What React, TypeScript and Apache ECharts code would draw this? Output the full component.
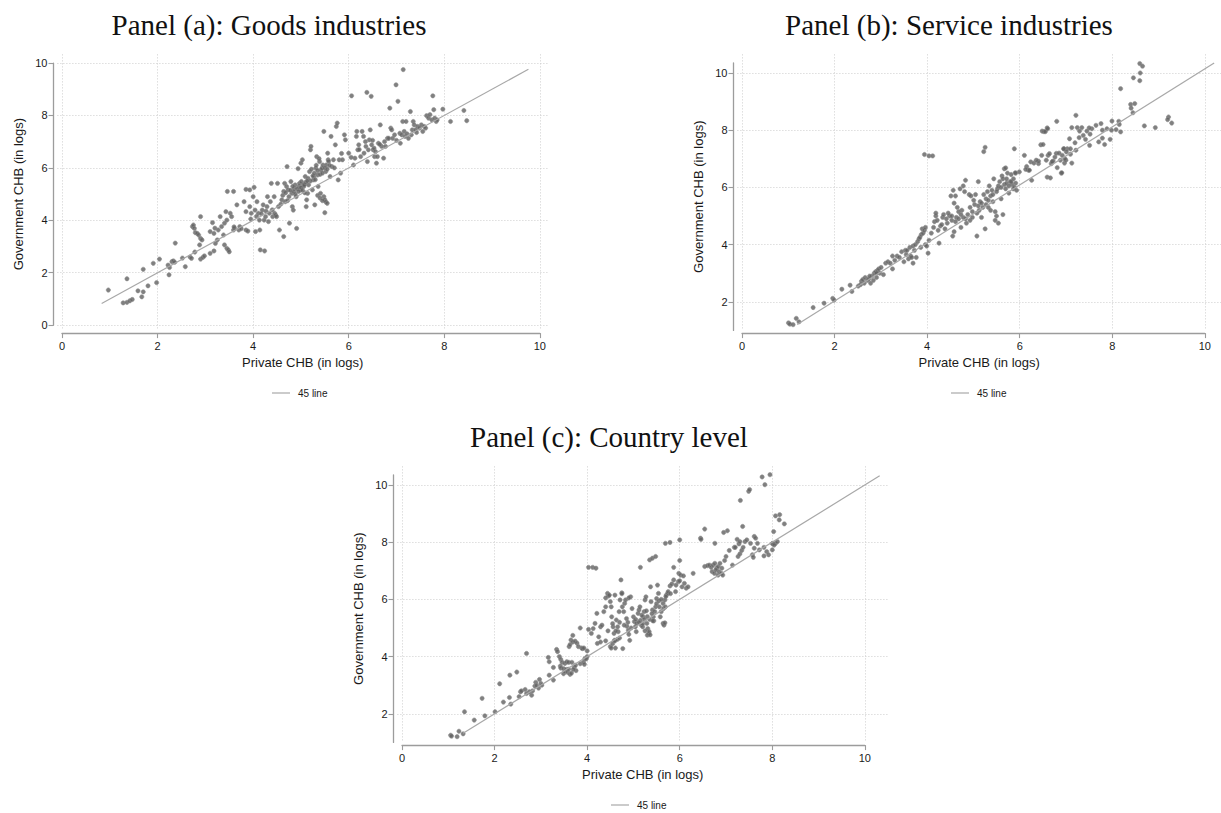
import React, { useEffect, useRef } from 'react';
import * as echarts from 'echarts';

// tick labels shared by the panels
const xTicks = [0, 2, 4, 6, 8, 10];
const yTicksGoods = [0, 2, 4, 6, 8, 10];
const yTicksOther = [2, 4, 6, 8, 10];

const panelTitles = [
  'Panel (a): Goods industries',
  'Panel (b): Service industries',
  'Panel (c): Country level',
];
const xAxisName = 'Private CHB (in logs)';
const yAxisName = 'Government CHB (in logs)';
const legendLabel = '45 line';

// [private CHB, government CHB]
const goodsPoints: [number, number][] = [
  [0.97, 1.34], [1.28, 0.85], [1.36, 0.87], [1.42, 0.93], [1.47, 0.98], [1.36, 1.77], [1.59, 1.31],
  [1.67, 1.08], [1.7, 1.27], [1.7, 2.13], [1.8, 1.5], [1.91, 2.36], [1.98, 1.62], [2.04, 2.52],
  [2.22, 2.29], [2.24, 1.92], [2.25, 2.2], [2.3, 2.42], [2.33, 2.45], [2.36, 2.4], [2.37, 3.13],
  [2.52, 2.56], [2.58, 2.23], [2.68, 2.6], [2.71, 2.55], [2.78, 2.79],
  [2.73, 3.76], [2.75, 3.82], [2.77, 3.69], [2.79, 3.53], [2.83, 3.5], [2.86, 3.44], [2.9, 3.31],
  [2.93, 3.25], [2.9, 4.14], [2.88, 3.06], [2.9, 2.52], [2.95, 2.59], [2.98, 2.64],
  [3.1, 3.57], [3.15, 3.91], [3.18, 3.5], [3.2, 3.7], [3.1, 2.74], [3.18, 2.83], [3.21, 3.12],
  [3.25, 3.25], [3.27, 3.63], [3.31, 4.14], [3.34, 3.76], [3.38, 3.44], [3.4, 3.89], [3.43, 4.33],
  [3.45, 4.01], [3.4, 3.06], [3.45, 2.93], [3.48, 2.87], [3.5, 2.8], [3.46, 5.1], [3.59, 5.1],
  [3.52, 4.27], [3.55, 4.14], [3.59, 3.63], [3.61, 3.69], [3.66, 4.59], [3.7, 3.63], [3.72, 3.76],
  [3.81, 4.71], [3.85, 3.63], [3.89, 3.59], [3.85, 4.33], [3.93, 4.52], [3.85, 5.18], [3.93, 5.16],
  [3.96, 4.27], [4.0, 4.9], [4.02, 5.26], [4.04, 4.39], [4.05, 3.57], [4.08, 4.71], [4.11, 4.27],
  [4.13, 4.01], [4.14, 3.63], [4.15, 2.87], [4.19, 4.39], [4.21, 4.59], [4.23, 4.01], [4.24, 2.83],
  [4.26, 4.14], [4.29, 4.52], [4.3, 4.9], [4.32, 3.95], [4.34, 4.27], [4.36, 4.71], [4.38, 5.41],
  [4.41, 4.14], [4.44, 4.9], [4.45, 4.27], [4.47, 4.2], [4.49, 4.14], [4.51, 5.41], [4.53, 4.52],
  [4.55, 3.63], [4.6, 4.78], [4.64, 3.38], [4.64, 5.1], [4.66, 5.41], [4.67, 4.71], [4.7, 5.29],
  [4.71, 6.05], [4.73, 5.16], [4.75, 4.9], [4.76, 3.89], [4.79, 5.48], [4.81, 5.03], [4.82, 4.52],
  [4.84, 4.39], [4.86, 5.22], [4.88, 5.35], [4.9, 4.9], [4.91, 3.69], [4.94, 5.97], [4.96, 5.29],
  [4.97, 5.41], [4.99, 5.16], [5.0, 6.18], [5.01, 5.48],
  [5.03, 6.31], [5.05, 5.35], [5.06, 5.29], [5.09, 5.67], [5.11, 4.52], [5.12, 4.78], [5.14, 5.03],
  [5.16, 5.35], [5.18, 5.86], [5.2, 6.69], [5.21, 6.82], [5.24, 5.16], [5.26, 5.54], [5.27, 5.67],
  [5.29, 4.59], [5.31, 5.99], [5.33, 6.43], [5.35, 5.73], [5.36, 5.29], [5.39, 6.24], [5.41, 5.03],
  [5.42, 5.92], [5.44, 5.99], [5.46, 6.11], [5.48, 4.9], [5.48, 7.39], [5.5, 4.78], [5.5, 4.29],
  [5.52, 5.86], [5.53, 6.11], [5.56, 6.56], [5.57, 6.31], [5.61, 5.67], [5.63, 7.2], [5.65, 6.05],
  [5.68, 6.31], [5.72, 6.88], [5.74, 7.58], [5.76, 7.71], [5.78, 5.54], [5.8, 6.31], [5.83, 5.8],
  [5.87, 6.31], [5.91, 7.26], [5.93, 7.07],
  [6.0, 6.56], [6.06, 8.75], [6.1, 6.11], [6.13, 6.37], [6.16, 7.2], [6.17, 7.39], [6.19, 6.69],
  [6.21, 6.88], [6.25, 6.43], [6.28, 7.39], [6.31, 7.2], [6.32, 6.56], [6.36, 6.82], [6.38, 8.88],
  [6.39, 6.24], [6.41, 6.69], [6.43, 7.07], [6.45, 7.45], [6.47, 8.73], [6.48, 6.88], [6.51, 6.69],
  [6.53, 6.75], [6.54, 6.43], [6.56, 6.62], [6.58, 6.18], [6.6, 6.43], [6.62, 6.94], [6.66, 7.64],
  [6.69, 6.82], [6.73, 6.37], [6.77, 6.82], [6.81, 7.13], [6.84, 7.13], [6.86, 8.28], [6.88, 7.52],
  [6.9, 7.45], [6.92, 7.13], [6.96, 7.26],
  [6.99, 9.17], [7.03, 8.54], [7.07, 7.32], [7.08, 6.94], [7.11, 7.26], [7.13, 7.77], [7.14, 9.75],
  [7.16, 7.39], [7.18, 7.2], [7.2, 7.77], [7.25, 7.13], [7.29, 8.15], [7.31, 7.26], [7.33, 7.45],
  [7.35, 7.77], [7.37, 7.64], [7.4, 7.45], [7.44, 7.58], [7.48, 7.52], [7.52, 7.64], [7.55, 7.39],
  [7.58, 7.58], [7.61, 7.52], [7.63, 7.99], [7.67, 7.9], [7.7, 8.03], [7.74, 7.83], [7.76, 8.75],
  [7.78, 8.22], [7.8, 7.9], [7.83, 7.77], [7.85, 7.83], [7.97, 8.24], [8.13, 7.77], [8.41, 8.19],
  [8.47, 7.8],
  [4.85, 5.1], [4.88, 5.0], [4.92, 5.2], [4.95, 5.1], [5.0, 5.25], [5.03, 5.15], [5.07, 5.35],
  [5.1, 5.45], [5.15, 5.6], [5.2, 5.5], [5.25, 5.7], [5.3, 5.55], [5.35, 5.9], [5.4, 5.75],
  [5.45, 5.8], [5.5, 6.0], [5.55, 5.95], [5.6, 6.1], [5.35, 4.95], [5.4, 4.85], [5.45, 4.75],
  [5.52, 4.7], [5.55, 4.65],
  [3.6, 3.75], [3.75, 3.68], [3.95, 4.05], [4.07, 4.15], [4.17, 4.25], [4.27, 4.35], [4.4, 4.4],
  [4.58, 4.62], [4.62, 4.95], [4.68, 5.05], [4.72, 4.75], [4.78, 5.15], [4.83, 5.3], [5.08, 5.05],
  [5.13, 5.5], [5.22, 5.95], [5.28, 5.8], [5.32, 6.1], [5.38, 6.35], [5.58, 6.25], [5.7, 6.0],
  [5.85, 6.55], [6.05, 6.4], [6.22, 6.7], [6.35, 7.0], [6.5, 7.05], [6.65, 6.9], [6.75, 7.0],
  [7.0, 7.05], [7.22, 7.3], [7.42, 7.35],
];

const servicePoints: [number, number][] = [
  [1.02, 1.26], [1.05, 1.22], [1.12, 1.2], [1.19, 1.42], [1.25, 1.3], [1.56, 1.8], [1.8, 1.95],
  [1.99, 2.12], [2.02, 2.06], [2.19, 2.44], [2.37, 2.58], [2.41, 2.36], [2.55, 2.55], [2.6, 2.6],
  [2.62, 2.72], [2.65, 2.78], [2.68, 2.65], [2.7, 2.85], [2.75, 2.75], [2.78, 2.8], [2.82, 2.65],
  [2.85, 2.9], [2.88, 2.75], [2.9, 3.0], [2.93, 3.05], [2.95, 2.85], [2.97, 3.1], [3.0, 3.15],
  [3.02, 3.0], [3.05, 3.2], [3.1, 2.95], [3.15, 3.35], [3.2, 3.4], [3.3, 3.6], [3.3, 3.15],
  [3.35, 3.45], [3.4, 3.6], [3.5, 3.75], [3.55, 3.4], [3.58, 3.8], [3.62, 3.8], [3.65, 3.5],
  [3.68, 3.9], [3.7, 3.6], [3.72, 3.55], [3.75, 3.95], [3.75, 3.35], [3.78, 3.8], [3.8, 4.0],
  [3.82, 3.55], [3.85, 4.1], [3.88, 4.2], [3.9, 4.25], [3.92, 3.9], [3.93, 4.35], [3.95, 4.55],
  [3.97, 4.4], [4.0, 4.5], [4.02, 4.0], [4.02, 4.6], [4.05, 3.95], [4.08, 3.7], [4.1, 4.15],
  [4.0, 7.15], [4.1, 7.1], [4.18, 7.1],
  [4.15, 4.4], [4.2, 4.6], [4.22, 4.8], [4.25, 5.0], [4.25, 5.1], [4.3, 4.5], [4.32, 4.05],
  [4.35, 4.65], [4.38, 4.7], [4.4, 4.95], [4.42, 5.05], [4.45, 4.55], [4.5, 4.75], [4.55, 5.0],
  [4.58, 5.7], [4.6, 4.85], [4.62, 4.3], [4.63, 5.9], [4.65, 4.45], [4.65, 5.45], [4.68, 5.7],
  [4.7, 4.95], [4.72, 5.3], [4.75, 4.9], [4.78, 5.95], [4.8, 4.6], [4.82, 5.2], [4.85, 6.05],
  [4.85, 4.95], [4.88, 5.85], [4.9, 6.25], [4.92, 4.75], [4.95, 5.05], [4.98, 5.75], [5.0, 4.85],
  [5.0, 5.3], [5.02, 5.7],
  [5.05, 4.95], [5.1, 5.4], [5.12, 5.75], [5.15, 5.1], [5.15, 4.3], [5.18, 6.2], [5.2, 5.2],
  [5.22, 5.5], [5.25, 4.95], [5.28, 5.3], [5.3, 5.75], [5.3, 7.25], [5.33, 7.4], [5.33, 4.55],
  [5.35, 5.6], [5.38, 5.85], [5.4, 5.3], [5.42, 6.05], [5.45, 5.2], [5.48, 5.9], [5.5, 5.5],
  [5.52, 6.3], [5.55, 5.15], [5.55, 4.85], [5.58, 5.0], [5.6, 5.95], [5.62, 4.75], [5.65, 6.2],
  [5.68, 5.6], [5.7, 6.4], [5.72, 5.05], [5.75, 6.1], [5.75, 6.65], [5.78, 5.95], [5.8, 6.15],
  [5.82, 6.5], [5.85, 5.8], [5.88, 6.2], [5.9, 6.45], [5.92, 6.1], [5.95, 5.95], [5.97, 7.35],
  [6.0, 6.5], [6.0, 6.15], [6.02, 5.9],
  [6.08, 6.54], [5.99, 6.51], [5.78, 6.68], [5.97, 6.01], [6.19, 7.12], [6.35, 6.25], [6.33, 6.89],
  [6.24, 6.73], [6.28, 6.6], [6.22, 6.63], [6.5, 6.83], [6.5, 6.92], [6.57, 7.12], [6.55, 7.49],
  [6.58, 7.97], [6.69, 8.08], [6.71, 7.12], [6.74, 7.18], [6.69, 6.36], [6.76, 6.33], [6.67, 6.95],
  [6.9, 8.31], [6.86, 7.06], [6.82, 6.92], [6.78, 6.83], [6.89, 7.19], [6.91, 6.69], [7.0, 6.5],
  [7.07, 6.85], [7.01, 6.51], [7.02, 7.12], [7.1, 6.95], [7.18, 7.7], [7.13, 7.35], [7.2, 7.35],
  [7.06, 7.35], [7.11, 7.24], [7.2, 7.16], [7.23, 6.85], [7.32, 8.52], [7.23, 8.09], [7.35, 8.09],
  [7.45, 8.09], [7.4, 7.97], [7.48, 7.82], [7.39, 7.74], [7.3, 7.56], [7.32, 7.3], [7.76, 8.17],
  [7.87, 8.23], [7.67, 8.05], [7.61, 8.08], [7.56, 7.97], [7.63, 7.86], [7.53, 7.68], [7.62, 7.47],
  [7.9, 8.0], [8.0, 8.05], [8.1, 8.0], [8.2, 8.02], [8.07, 7.68], [7.9, 7.72], [7.95, 7.5],
  [7.82, 7.59], [8.11, 8.32], [8.26, 8.31], [8.27, 8.2], [8.3, 7.94], [8.3, 9.45], [8.52, 8.9],
  [8.61, 8.93], [8.53, 8.77], [8.57, 8.61], [8.58, 9.83], [8.72, 9.73], [8.73, 10.0], [8.72, 10.33],
  [8.78, 10.24], [8.82, 8.15], [9.06, 8.09], [9.35, 8.46], [9.33, 8.37], [9.42, 8.25],
  [6.4, 6.85], [6.45, 6.95], [6.3, 6.6], [6.6, 7.5], [6.62, 7.95], [6.65, 7.95], [6.7, 8.05],
  [6.8, 6.9], [6.95, 7.2], [6.98, 6.95], [7.05, 7.35], [7.08, 7.0],
  [4.28, 4.85], [4.48, 4.9], [4.52, 5.1], [4.6, 5.0], [4.68, 4.8], [4.75, 5.15], [4.8, 5.05],
  [4.9, 4.9], [5.05, 5.15], [5.08, 5.55], [5.18, 5.35], [5.25, 5.45], [5.35, 5.4], [5.4, 5.55],
  [5.45, 5.7], [5.5, 5.75], [5.58, 5.85], [5.62, 6.05], [5.68, 6.0], [5.72, 6.3], [5.8, 6.3],
  [5.85, 6.05], [5.9, 6.2], [5.95, 6.3], [3.25, 3.35], [3.45, 3.55], [3.6, 3.65], [2.8, 2.9],
  [2.95, 3.0],
];

const countryPoints: [number, number][] = [
  [1.05, 1.25], [1.07, 1.22], [1.19, 1.2], [1.23, 1.39], [1.32, 1.3], [1.35, 2.07], [1.56, 1.78],
  [1.73, 2.54], [1.79, 1.93], [2.01, 2.07], [2.11, 3.05], [2.19, 2.41], [2.32, 2.57], [2.33, 3.35],
  [2.35, 2.34], [2.48, 3.46], [2.53, 2.6], [2.56, 2.77], [2.58, 2.8], [2.69, 4.11], [2.66, 2.85],
  [2.69, 2.71], [2.75, 2.77], [2.8, 2.65], [2.82, 2.8], [2.87, 2.97], [2.89, 3.1], [2.91, 2.99],
  [2.95, 2.9], [2.97, 3.2], [3.0, 3.06], [3.02, 3.0], [3.16, 3.97], [3.18, 3.82], [3.18, 3.35],
  [3.27, 3.18], [3.27, 3.62], [3.34, 4.25], [3.36, 4.17], [3.4, 4.0], [3.43, 3.9], [3.42, 3.67],
  [3.43, 3.6], [3.49, 3.58], [3.49, 3.4], [3.52, 3.48], [3.55, 3.55], [3.58, 3.45], [3.6, 3.56],
  [3.63, 3.38], [3.66, 3.42], [3.46, 3.8], [3.52, 3.76], [3.56, 3.82], [3.6, 3.8], [3.61, 4.35],
  [3.63, 4.42], [3.65, 4.58], [3.69, 4.51], [3.74, 4.54], [3.78, 4.47], [3.81, 4.35], [3.69, 4.74],
  [3.67, 3.8], [3.72, 3.63], [3.76, 3.51], [3.85, 3.75], [3.92, 3.81], [3.95, 3.93], [4.0, 4.2],
  [4.0, 4.0], [3.85, 5.0], [3.88, 4.3], [3.9, 4.28], [3.93, 4.3],
  [4.03, 7.12], [4.12, 7.12], [4.19, 7.09], [3.94, 3.73], [3.98, 3.92], [4.03, 4.95], [4.09, 4.81],
  [4.13, 4.98], [4.17, 5.16], [4.21, 5.51], [4.22, 4.46], [4.25, 4.69], [4.29, 4.51], [4.29, 5.04],
  [4.32, 5.1], [4.36, 5.57], [4.4, 5.74], [4.44, 6.21], [4.46, 6.12], [4.48, 6.15], [4.5, 5.92],
  [4.52, 5.74], [4.53, 5.39], [4.56, 5.04], [4.58, 4.81], [4.59, 4.57], [4.61, 4.3], [4.63, 5.28],
  [4.66, 5.04], [4.67, 4.87], [4.69, 5.57], [4.71, 5.98], [4.73, 6.68], [4.75, 6.23], [4.76, 5.74],
  [4.79, 5.57], [4.81, 5.86], [4.83, 5.98], [4.85, 5.33], [4.86, 5.06], [4.89, 4.92], [4.9, 4.78],
  [4.92, 4.57], [4.77, 4.28],
  [4.94, 6.09], [4.97, 5.68], [5.0, 5.39], [5.02, 5.22], [5.04, 5.04], [5.06, 4.87], [5.07, 5.16],
  [5.1, 5.51], [5.12, 5.63], [5.14, 5.74], [5.15, 5.27], [5.17, 5.1], [5.2, 5.04], [5.21, 5.39],
  [5.23, 5.57], [5.25, 5.98], [5.27, 6.09], [5.29, 5.16], [5.31, 4.98], [5.33, 4.81], [5.34, 4.87],
  [5.37, 6.44], [5.38, 5.92], [5.41, 5.63], [5.43, 5.39], [5.44, 5.25], [5.46, 5.57], [5.48, 5.74],
  [5.5, 6.03], [5.52, 6.5], [5.54, 6.21], [5.56, 5.74], [5.58, 5.39], [5.6, 5.57], [5.64, 5.86],
  [5.65, 5.68], [5.68, 5.98], [5.69, 5.74], [5.71, 6.15], [5.74, 6.21], [5.75, 6.27], [5.64, 5.16],
  [5.66, 5.1], [5.68, 5.18],
  [5.35, 7.38], [5.41, 7.44], [5.48, 7.5], [5.15, 7.12], [5.69, 7.96], [5.79, 7.99], [5.87, 7.12],
  [5.79, 6.47], [5.83, 6.54], [5.87, 6.68], [5.91, 6.27], [5.92, 6.5], [5.97, 6.62], [5.98, 6.91],
  [6.0, 6.65], [6.02, 6.85], [6.05, 6.44], [6.08, 6.82], [6.1, 6.56], [6.14, 6.39], [6.18, 6.44],
  [6.0, 8.08], [6.0, 7.36], [6.29, 6.91], [6.45, 8.14], [6.46, 8.1], [6.54, 8.46], [6.76, 7.96],
  [6.54, 7.15], [6.6, 7.18], [6.64, 7.2], [6.68, 7.12], [6.72, 7.2], [6.76, 7.26], [6.8, 7.09],
  [6.83, 7.15], [6.7, 6.97], [6.75, 6.91], [6.78, 7.03], [6.83, 6.85], [6.85, 6.97], [6.87, 7.26],
  [6.9, 6.91], [6.91, 7.09], [6.93, 6.85],
  [6.95, 8.34], [7.03, 8.4], [6.97, 7.36], [7.0, 7.5], [7.07, 7.71], [7.14, 7.2], [7.18, 7.82],
  [7.2, 7.82], [7.26, 7.5], [7.28, 7.94], [7.3, 7.59], [7.34, 7.71], [7.37, 7.82], [7.24, 8.1],
  [7.3, 8.02], [7.36, 8.55], [7.41, 8.02], [7.45, 8.08], [7.53, 7.96], [7.61, 8.2], [7.64, 8.14],
  [7.68, 7.96], [7.31, 9.46], [7.49, 9.78], [7.51, 9.84], [7.78, 10.28], [7.84, 10.01], [7.95, 10.36],
  [7.57, 7.56], [7.59, 7.47], [7.72, 7.73], [7.82, 7.82], [7.88, 7.67], [7.92, 7.56], [8.0, 7.73],
  [8.01, 7.96], [8.03, 8.37], [8.07, 7.96], [8.11, 8.02], [7.61, 7.79], [8.07, 8.92], [8.16, 8.96],
  [8.15, 8.78], [8.26, 8.64], [7.82, 7.52], [8.0, 7.95], [8.04, 7.9],
  [5.3, 5.4], [5.35, 5.3], [5.42, 5.25], [5.2, 5.15], [5.25, 4.9], [5.3, 4.75], [5.36, 4.76],
  [4.5, 4.35], [4.52, 4.3], [4.55, 4.45], [4.6, 4.55], [4.65, 4.6], [4.7, 4.65],
  [4.4, 4.55], [4.45, 4.9], [4.55, 5.15], [4.62, 4.9], [4.7, 5.2], [4.8, 5.1], [4.88, 5.2],
  [4.95, 5.0], [5.05, 5.3], [5.12, 5.2], [5.18, 5.45], [5.24, 5.3], [5.28, 5.6], [5.4, 5.5],
  [5.5, 5.85], [5.55, 5.95], [5.6, 6.0], [5.7, 6.1], [5.8, 6.2], [4.4, 6.05], [4.6, 6.15],
  [4.75, 6.2], [4.9, 6.05], [3.7, 3.55], [3.75, 3.7],
];

// end points of the 45 degree reference line in each panel
const goodsLine = [[0.83, 0.83], [9.76, 9.76]];
const serviceLine = [[1.21, 1.21], [10.35, 10.35]];
const countryLine = [[1.32, 1.32], [10.32, 10.32]];

const SANS = '"Liberation Sans", Arial, Helvetica, sans-serif';
const SERIF = '"Liberation Serif", "Times New Roman", serif';
const AXIS_GRAY = '#9c9c9c';
const GRID_GRAY = '#cdcdcd';
const LINE_GRAY = '#a8a8a8';
const TEXT = '#1a1a1a';

type Panel = {
  title: string;
  points: [number, number][];
  line: number[][];
  box: [number, number, number, number]; // plot region: left, top, width, height
  xView: [number, number];
  yView: [number, number];
  xSpan: [number, number]; // extent of the drawn axis lines
  ySpan: [number, number];
  yTicks: number[];
  titleAt: [number, number];
  legendAt: [number, number];
};

const panels: Panel[] = [
  {
    title: panelTitles[0], points: goodsPoints, line: goodsLine,
    box: [57.4, 54.4, 490.6, 276], xView: [-0.096, 10.17], yView: [-0.2, 10.33],
    xSpan: [0, 10], ySpan: [0, 10], yTicks: yTicksGoods,
    titleAt: [269, 25], legendAt: [272, 388],
  },
  {
    title: panelTitles[1], points: servicePoints, line: serviceLine,
    box: [737.4, 54.4, 490.6, 276], xView: [-0.1, 10.5], yView: [1.0, 10.65],
    xSpan: [0, 10], ySpan: [1.0, 10.35], yTicks: yTicksOther,
    titleAt: [949, 25], legendAt: [951, 388],
  },
  {
    title: panelTitles[2], points: countryPoints, line: countryLine,
    box: [397.4, 466.4, 490.6, 276], xView: [-0.1, 10.5], yView: [1.0, 10.65],
    xSpan: [0, 10], ySpan: [1.0, 10.35], yTicks: yTicksOther,
    titleAt: [609, 437], legendAt: [611, 800],
  },
];

function buildOption() {
  const grid: any[] = [];
  const xAxis: any[] = [];
  const yAxis: any[] = [];
  const series: any[] = [];
  const legend: any[] = [];
  const graphic: any[] = [];

  const tickLabel = { fontSize: 11, color: TEXT, fontFamily: SANS };
  const axisName = { fontSize: 13, color: TEXT, fontFamily: SANS };
  const gridLine = { show: true, lineStyle: { color: GRID_GRAY, width: 1, type: [1, 2] } };

  panels.forEach((p, i) => {
    const [left, top, width, height] = p.box;
    const sx = width / (p.xView[1] - p.xView[0]);
    const sy = height / (p.yView[1] - p.yView[0]);
    const g = i * 3;

    // main plot region, x-axis strip, y-axis strip
    grid.push({ left, top, width, height });
    grid.push({ left: left + (p.xSpan[0] - p.xView[0]) * sx, top, width: (p.xSpan[1] - p.xSpan[0]) * sx, height });
    grid.push({ left, top: top + (p.yView[1] - p.ySpan[1]) * sy, width, height: (p.ySpan[1] - p.ySpan[0]) * sy });

    xAxis.push({
      type: 'value', gridIndex: g, min: p.xView[0], max: p.xView[1],
      axisLine: { show: false }, axisTick: { show: false }, axisLabel: { show: false }, splitLine: { show: false },
      name: xAxisName, nameLocation: 'middle', nameGap: 26, nameTextStyle: axisName,
    });
    xAxis.push({
      type: 'value', gridIndex: g + 1, min: p.xSpan[0], max: p.xSpan[1], offset: 2.7,
      axisLine: { show: true, onZero: false, lineStyle: { color: AXIS_GRAY, width: 1.3 } },
      axisTick: { show: true, length: 5, customValues: xTicks, lineStyle: { color: AXIS_GRAY, width: 1.1 } },
      axisLabel: { customValues: xTicks, margin: 7, ...tickLabel },
      splitLine: gridLine,
    });
    xAxis.push({ type: 'value', gridIndex: g + 2, show: false, min: p.xView[0], max: p.xView[1] });

    yAxis.push({ type: 'value', gridIndex: g, show: false, min: p.yView[0], max: p.yView[1] });
    yAxis.push({ type: 'value', gridIndex: g + 1, show: false, min: p.yView[0], max: p.yView[1] });
    yAxis.push({
      type: 'value', gridIndex: g + 2, min: p.ySpan[0], max: p.ySpan[1], offset: 3.9,
      axisLine: { show: true, onZero: false, lineStyle: { color: AXIS_GRAY, width: 1.3 } },
      axisTick: { show: true, length: 5, customValues: p.yTicks, lineStyle: { color: AXIS_GRAY, width: 1.1 } },
      axisLabel: { customValues: p.yTicks, margin: 6, ...tickLabel },
      splitLine: gridLine,
      name: yAxisName, nameLocation: 'middle', nameGap: 29, nameRotate: 90, nameTextStyle: axisName,
    });

    series.push({
      type: 'scatter', xAxisIndex: g, yAxisIndex: g, data: p.points, symbol: 'circle', symbolSize: 4.3,
      itemStyle: { color: '#606060', borderColor: '#909090', borderWidth: 0.7 }, silent: true, z: 2,
    });
    series.push({
      type: 'line', name: legendLabel, xAxisIndex: g, yAxisIndex: g, data: p.line, symbol: 'none',
      itemStyle: { color: LINE_GRAY }, lineStyle: { color: LINE_GRAY, width: 1.2 }, silent: true, z: 3,
    });

    legend.push({
      data: [legendLabel], left: p.legendAt[0], top: p.legendAt[1], padding: 0,
      icon: 'rect', itemWidth: 18, itemHeight: 1.2, selectedMode: false,
      textStyle: { fontSize: 10, color: TEXT, fontFamily: SANS, padding: [0, 0, 0, 3] },
    });

    graphic.push({
      type: 'text', x: p.titleAt[0], y: p.titleAt[1],
      style: {
        text: p.title, fontSize: 29, fontFamily: SERIF, fill: '#111',
        align: 'center', verticalAlign: 'middle', textAlign: 'center', textVerticalAlign: 'middle',
      },
    });
  });

  return { animation: false, backgroundColor: '#fff', grid, xAxis, yAxis, series, legend, graphic };
}

export default function App() {
  const ref = useRef<HTMLDivElement>(null);

  useEffect(() => {
    document.body.style.margin = '0';
    if (!ref.current) return;
    const chart = echarts.init(ref.current, null, { renderer: 'svg' });
    chart.setOption(buildOption());
    return () => chart.dispose();
  }, []);

  return <div ref={ref} style={{ width: 1221, height: 813 }} />;
}
